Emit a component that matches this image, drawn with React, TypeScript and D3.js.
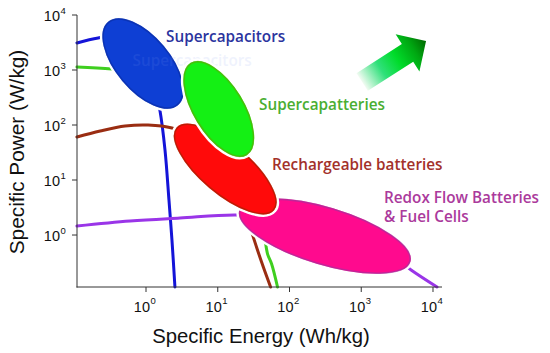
import React from "react";
import * as d3 from "d3";

// ---- Data ----
const xTickExps = [0, 1, 2, 3, 4];
const yTickExps = [0, 1, 2, 3, 4];

// Ragone curves (specific energy Wh/kg, specific power W/kg)
const blueEnergy = [0.109, 0.215, 0.435, 0.826, 1.25, 1.56, 1.84, 2.09, 2.3, 2.53];
const bluePower = [3100, 3820, 4150, 2310, 658, 187, 35, 4.3, 0.81, 0.1135];
const greenEnergy = [0.109, 0.337, 1.56, 5.62, 17.2, 32.6, 44.0, 49.5, 56.2, 68.1];
const greenPower = [1135, 1043, 811, 351, 53.4, 5.34, 1.1, 0.45, 0.3, 0.1135];
const brownEnergy = [0.109, 0.23, 0.511, 1.07, 2.3, 5.62, 12.5, 21.5, 29.7, 40.8, 54.5];
const brownPower = [60.5, 77.8, 95.9, 100, 88.2, 53.4, 18.7, 4.33, 1.13, 0.323, 0.1135];
const purpleEnergy = [0.109, 0.6, 2.97, 18.4, 138, 938, 2870, 4950, 11370];
const purplePower = [1.46, 1.8, 2.04, 2.31, 1.87, 0.81, 0.398, 0.231, 0.1135];

// Technology regions: major axis end points + aspect ratio
const regionNames = ["Supercapacitors", "Supercapatteries", "Rechargeable batteries", "Redox Flow Batteries|& Fuel Cells"];
const regionEnergyFrom = [0.289, 4.1, 2.57, 19.2];
const regionPowerFrom = [7850, 1410, 92, 2.86];
const regionEnergyTo = [2.86, 26.0, 62.9, 5040];
const regionPowerTo = [220, 27.1, 2.73, 0.321];
const regionAspect = [0.51, 0.48, 0.4, 0.333];
const labelEnergy = [1.9, 37.6, 57.0, 2075];
const labelPower = [3270, 187, 15.2, 3.82];
// faint leftover label inside the supercapacitor region
const ghostEnergy = 0.65;
const ghostPower = 1200;

// improvement arrow (tail → tip)
const arrowEnergy = [1030, 8000];
const arrowPower = [605, 3370];

// ---- Styles ----
const curveColors = ["#1414d8", "#3fcf1f", "#9a2d12", "#9a35e8"];
const fillColors = ["#0e3fd4", "#14f014", "#ff0a0a", "#ff0a8e"];
const edgeColors = ["#0a2a9a", "#6a9a00", "#8a2a00", "#8e3aa0"];
const labelColors = ["#2b349e", "#4aae32", "#a3312a", "#ab3a9c"];

const W = 550;
const H = 353;

export default function App() {
  const x = d3.scaleLog().domain([0.1092, 13350]).range([77, 442]);
  const y = d3.scaleLog().domain([0.1135, 10000]).range([287, 15]);

  const line = d3
    .line<[number, number]>()
    .x((d) => x(d[0]))
    .y((d) => y(d[1]))
    .curve(d3.curveCatmullRom.alpha(0.5));

  const curves = [
    [blueEnergy, bluePower],
    [greenEnergy, greenPower],
    [brownEnergy, brownPower],
    [purpleEnergy, purplePower],
  ].map(([e, p]) => e.map((v, i) => [v, p[i]] as [number, number]));

  const ellipses = regionNames.map((name, i) => {
    const x1 = x(regionEnergyFrom[i]);
    const y1 = y(regionPowerFrom[i]);
    const x2 = x(regionEnergyTo[i]);
    const y2 = y(regionPowerTo[i]);
    const cx = (x1 + x2) / 2;
    const cy = (y1 + y2) / 2;
    const a = Math.hypot(x2 - x1, y2 - y1) / 2;
    const b = a * regionAspect[i];
    const ang = (Math.atan2(y2 - y1, x2 - x1) * 180) / Math.PI;
    return { name, cx, cy, a, b, ang, i };
  });
  const drawOrder = [0, 3, 2, 1];

  // arrow geometry
  const tx = x(arrowEnergy[0]);
  const ty = y(arrowPower[0]);
  const hx = x(arrowEnergy[1]);
  const hy = y(arrowPower[1]);
  const len = Math.hypot(hx - tx, hy - ty);
  const ux = (hx - tx) / len;
  const uy = (hy - ty) / len;
  const nx = -uy;
  const ny = ux;
  const sw = 10.5;
  const hw = 22;
  const hl = 22;
  const bx = hx - ux * hl;
  const by = hy - uy * hl;
  const arrowPts = [
    [tx + nx * sw, ty + ny * sw],
    [bx + nx * sw, by + ny * sw],
    [bx + nx * hw, by + ny * hw],
    [hx, hy],
    [bx - nx * hw, by - ny * hw],
    [bx - nx * sw, by - ny * sw],
    [tx - nx * sw, ty - ny * sw],
  ];

  const tickFont = "Liberation Sans, Arial, sans-serif";
  const labelFont = "'Open Sans', 'Noto Sans', sans-serif";

  return (
    <svg width={W} height={H} style={{ position: "absolute", left: 0, top: 0 }}>
      <defs>
        <linearGradient id="arrowGrad" gradientUnits="userSpaceOnUse" x1={tx} y1={ty} x2={hx} y2={hy}>
          <stop offset="0" stopColor="#f2fbf2" />
          <stop offset="0.3" stopColor="#2fe07a" />
          <stop offset="0.55" stopColor="#00dc2a" />
          <stop offset="0.8" stopColor="#00a812" />
          <stop offset="1" stopColor="#006a00" />
        </linearGradient>
      </defs>
      <rect width={W} height={H} fill="#fff" />

      {/* curves */}
      {curves.map((c, i) => (
        <path key={i} d={line(c) || ""} fill="none" stroke={curveColors[i]} strokeWidth={3} strokeLinecap="round" />
      ))}

      {/* regions */}
      {drawOrder.map((k) => {
        const e = ellipses[k];
        return (
          <g key={k}>
            <g transform={`translate(${e.cx},${e.cy}) rotate(${e.ang})`}>
              <ellipse rx={e.a} ry={e.b} fill={fillColors[k]} stroke="#fff" strokeWidth={2.5} />
              <ellipse rx={e.a - 2} ry={e.b - 2} fill="none" stroke={edgeColors[k]} strokeWidth={1.6} opacity={0.55} />
            </g>
            {k === 0 && (
              <text
                x={x(ghostEnergy)}
                y={y(ghostPower)}
                fontFamily={labelFont}
                fontWeight={600}
                fontSize={15.3}
                fill="#7f9cf0"
                opacity={0.12}
              >
                Supercapacitors
              </text>
            )}
          </g>
        );
      })}

      {/* axes */}
      <line x1={77} y1={15} x2={77} y2={287.5} stroke="#333" strokeWidth={1} />
      <line x1={76.5} y1={287} x2={442} y2={287} stroke="#333" strokeWidth={1} />
      {yTickExps.map((e) => (
        <g key={"y" + e}>
          <line x1={72} x2={77} y1={y(10 ** e)} y2={y(10 ** e)} stroke="#333" />
          <text x={60} y={y(10 ** e) + 6} textAnchor="end" fontFamily={tickFont} fontSize={14.5} fill="#111">
            10
          </text>
          <text x={60.5} y={y(10 ** e) - 1} fontFamily={tickFont} fontSize={9.5} fill="#111">
            {e}
          </text>
        </g>
      ))}
      {xTickExps.map((e) => (
        <g key={"x" + e}>
          <line x1={x(10 ** e)} x2={x(10 ** e)} y1={287} y2={292} stroke="#333" />
          <text x={x(10 ** e) + 4} y={311.5} textAnchor="end" fontFamily={tickFont} fontSize={14.5} fill="#111">
            10
          </text>
          <text x={x(10 ** e) + 4.5} y={304} fontFamily={tickFont} fontSize={9.5} fill="#111">
            {e}
          </text>
        </g>
      ))}
      <text x={261} y={343} textAnchor="middle" fontFamily={tickFont} fontSize={20.3} fill="#111">
        Specific Energy (Wh/kg)
      </text>
      <text
        transform={`translate(23.5,152) rotate(-90)`}
        textAnchor="middle"
        fontFamily={tickFont}
        fontSize={20.8}
        fill="#111"
      >
        Specific Power (W/kg)
      </text>

      {/* labels */}
      {regionNames.map((n, i) =>
        n.split("|").map((part, j) => (
          <text
            key={i + "-" + j}
            x={x(labelEnergy[i])}
            y={y(labelPower[i]) + j * 19}
            fontFamily={labelFont}
            fontWeight={600}
            fontSize={15.3}
            fill={labelColors[i]}
          >
            {part}
          </text>
        ))
      )}

      {/* arrow */}
      <polygon points={arrowPts.map((p) => p.join(",")).join(" ")} fill="url(#arrowGrad)" />
    </svg>
  );
}
